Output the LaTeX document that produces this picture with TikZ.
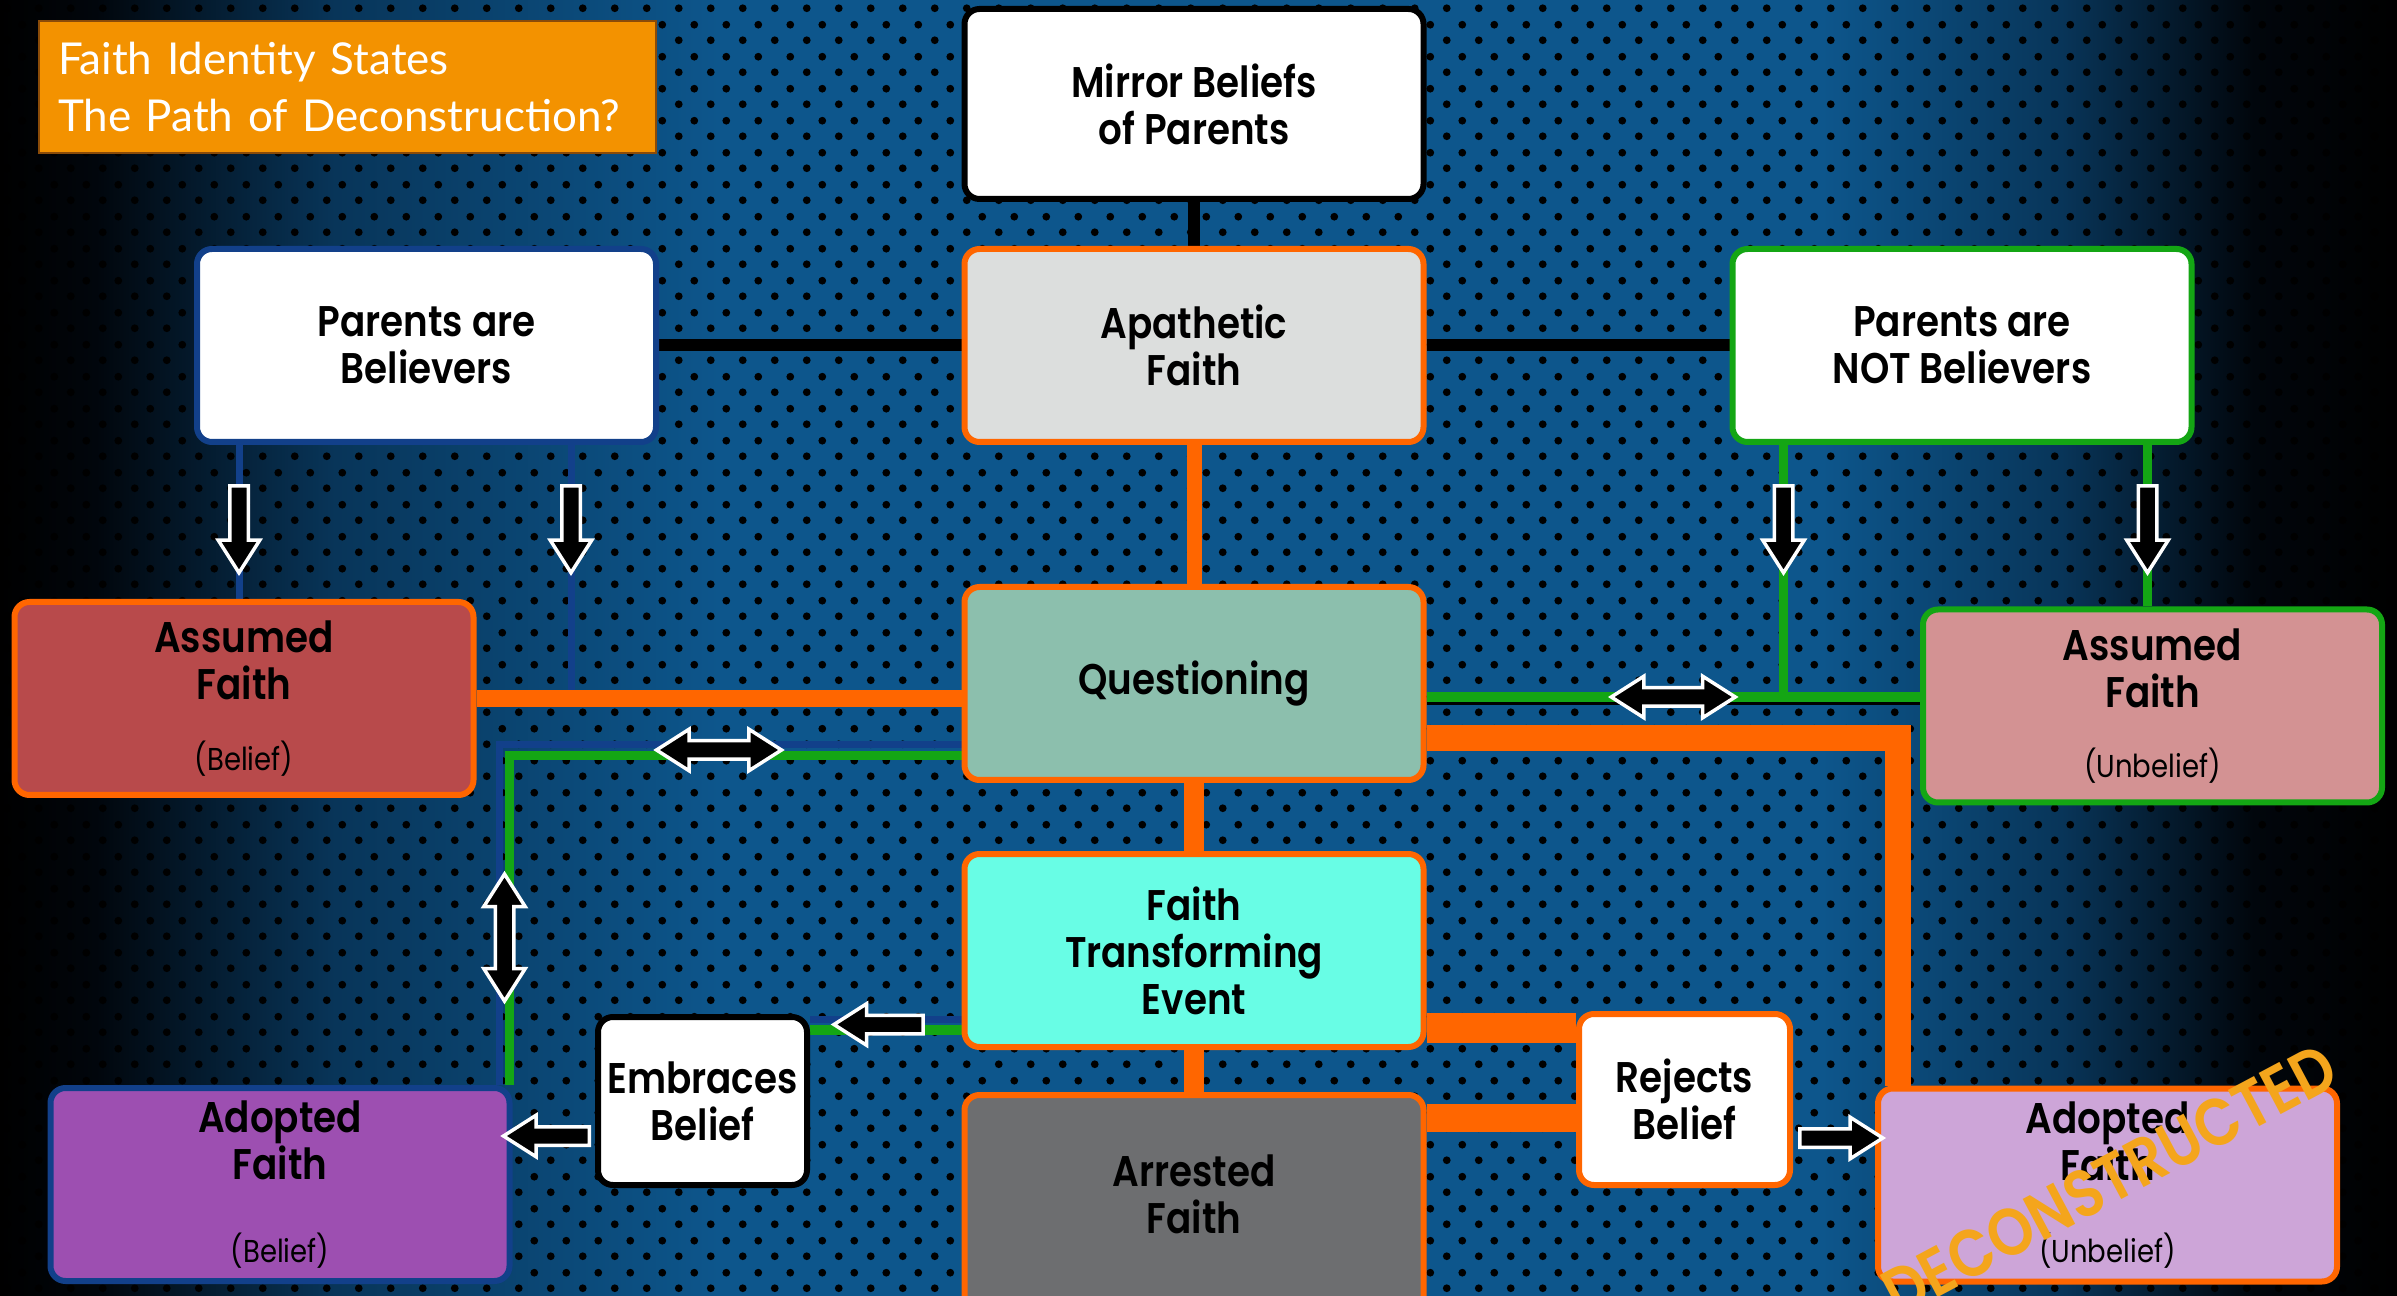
\documentclass[tikz,border=0pt]{standalone}
\usepackage{fontspec}
\setmainfont{Lato}
\newfontfamily\gothic{Poppins}[FakeStretch=0.87, BoldFont={Poppins SemiBold}]
\usetikzlibrary{calc,shapes.arrows,patterns.meta}
\newcommand*{\subtxt}{\mdseries\fontsize{9}{10}\selectfont}
\definecolor{corg}{HTML}{FF6600}
\definecolor{cnavy}{HTML}{12408A}
\definecolor{cgrn}{HTML}{14A614}
\definecolor{capa}{HTML}{DCDEDD}
\definecolor{cque}{HTML}{8CBFAD}
\definecolor{cfte}{HTML}{68FDE5}
\definecolor{carr}{HTML}{6D6E70}
\definecolor{cabl}{HTML}{B84A4B}
\definecolor{caub}{HTML}{D39293}
\definecolor{cadb}{HTML}{9D4FB1}
\definecolor{cadu}{HTML}{CDA5D8}
\definecolor{cttl}{HTML}{F39200}
\definecolor{cttlb}{HTML}{8A4B08}
\definecolor{cstamp}{HTML}{F4A51C}
\definecolor{cpl0}{HTML}{01060C}
\definecolor{cpl1}{HTML}{083559}
\definecolor{cpl2}{HTML}{0D568C}
% tikz maps the path onto the middle half of the shading
\pgfdeclarehorizontalshading{plate}{100bp}{color(0bp)=(black); color(25bp)=(black); color(27bp)=(cpl0);
  color(32bp)=(cpl1); color(40bp)=(cpl2); color(63bp)=(cpl2); color(68bp)=(cpl1); color(72bp)=(cpl0);
  color(75bp)=(black); color(100bp)=(black)}
\tikzdeclarepattern{
  name=perfdots,
  type=uncolored,
  bounding box={(0mm,0mm) and (3.2mm,3.2mm)},
  tile size={(3.2mm,3.2mm)},
  code={
    \fill (0.8mm,0.8mm) circle (0.4mm);
    \fill (2.4mm,2.4mm) circle (0.4mm);
  }
}
\pgfdeclarelayer{back}
\pgfdeclarelayer{links}
\pgfsetlayers{back,links,main}
\tikzset{
  faithbox/.style={draw=corg, line width=0.6mm, rounded corners=1.5mm, minimum width=45.9mm, minimum height=19.3mm,
    inner sep=0pt, align=center, font=\gothic\bfseries\fontsize{12.2}{13.4}\selectfont},
  blackln/.style={draw=black, line width=1.2mm},
  orgln/.style={draw=corg, line width=#1},
  bluln/.style={draw=cnavy, line width=0.7mm},
  grnln/.style={draw=cgrn, line width=0.9mm},
  arrowhd/.style={fill=black, draw=white, line width=0.35mm, inner sep=0.75mm},
  onearrow/.style={arrowhd, single arrow, single arrow head extend=1.15mm, single arrow tip angle=65,
    single arrow head indent=0mm, minimum height=#1},
  twoarrow/.style={arrowhd, double arrow, double arrow head extend=1.15mm, double arrow tip angle=65,
    double arrow head indent=0mm, minimum height=#1}
}

\begin{document}
\begin{tikzpicture}[x=0.1mm, y=-0.1mm]
    \useasboundingbox (0,0) rectangle (2397,1296);
    \clip (0,0) rectangle (2397,1296);
    \begin{pgfonlayer}{back}
        \shade[shading=plate] (0,0) rectangle (2397,1296);
        \fill[pattern=perfdots, pattern color=black] (0,0) rectangle (2397,1296);
    \end{pgfonlayer}

    \node[draw=cttlb, line width=0.25mm, fill=cttl, text=white, minimum width=61.7mm, minimum height=13.2mm,
        text width=57.9mm, align=left, inner sep=0pt, font=\fontsize{12.5}{16.4}\selectfont]
        (ttl) at (347.5,87) {Faith Identity States\\The Path of Deconstruction?};

    \node[faithbox, draw=black, fill=white, minimum height=19mm] (mir) at (1194,104) {Mirror Beliefs\\of Parents};
    \node[faithbox, fill=capa] (apa) at (1194,345.5) {Apathetic\\Faith};
    \node[faithbox, draw=cnavy, fill=white] (pb) at (426.5,345.5) {Parents are\\Believers};
    \node[faithbox, draw=cgrn, fill=white] (pnb) at (1962,345.5) {Parents are\\NOT Believers};
    \node[faithbox, fill=cabl] (ab) at (244,698.5) {Assumed\\Faith\\[2.3mm]{\subtxt (Belief)}};
    \node[faithbox, fill=cque] (q) at (1194,683.5) {Questioning};
    \node[faithbox, draw=cgrn, fill=caub] (aub) at (2152.5,706) {Assumed\\Faith\\[2.3mm]{\subtxt (Unbelief)}};
    \node[faithbox, fill=cfte] (fte) at (1194,950.5) {Faith\\Transforming\\Event};
    \node[faithbox, fill=carr, minimum height=24mm, text depth=4.2mm] (arr) at (1194,1215) {Arrested\\Faith};
    \node[faithbox, draw=black, fill=white, minimum width=20.9mm, minimum height=16.8mm] (emb) at (702.5,1101) {Embraces\\Belief};
    \node[faithbox, fill=white, minimum width=21.1mm, minimum height=17.1mm] (rej) at (1684.5,1099.5) {Rejects\\Belief};
    \node[faithbox, draw=cnavy, fill=cadb] (adb) at (280,1184.5) {Adopted\\Faith\\[3.5mm]{\subtxt (Belief)}};
    \node[faithbox, fill=cadu] (adu) at (2107.5,1185) {Adopted\\Faith\\[3.5mm]{\subtxt (Unbelief)}};

    % points where the lines leave the boxes
    \coordinate (pbl) at ($(ab.north |- pb.south)+(-5,0)$);
    \coordinate (pbr) at ($(pb.south east)+(-88,0)$);
    \coordinate (pnbl) at ($(pnb.south west)+(54,0)$);
    \coordinate (aubt) at ($(aub.north |- pnb.south)+(-5,0)$);
    \coordinate (gq) at ($(aub.west)+(0,-9)$);
    \coordinate (gqb) at ($(aub.west)+(0,-2)$);
    \coordinate (bq) at ($(q.south west)+(0,-38.5)$);
    \coordinate (gq2) at ($(q.south west)+(0,-27.5)$);
    \coordinate (bgl) at ($(q.south west)+(0,-33)$);
    \coordinate (bgv) at ($(adb.north east)+(-8,0)$);
    \coordinate (fb) at ($(fte.south west)+(0,-31)$);
    \coordinate (fg) at ($(fte.south west)+(0,-20)$);
    \coordinate (fm) at ($(fte.south west)+(0,-25.5)$);
    \coordinate (fr) at ($(fte.south east)+(0,-22)$);
    \coordinate (ar) at ($(arr.north east)+(0,26)$);
    \coordinate (qo) at ($(q.south east)+(0,-45)$);
    \coordinate (ea) at ($(emb.south west)+(0,-52)$);
    \coordinate (ra) at ($(rej.south east)+(0,-50)$);

    \begin{pgfonlayer}{links}
        \draw[blackln] (mir) -- (apa);
        \draw[blackln] (pb) -- (apa) -- (pnb);
        \draw[orgln=1.5mm] (apa) -- (q);
        \draw[orgln=2mm] (q) -- (fte) -- (arr);
        \draw[bluln] (pbl) -- (pbl |- ab.north);
        \draw[bluln] (pbr) -- (pbr |- ab.east);
        \draw[orgln=1.7mm] (ab.east) -- (ab.east -| q.west);
        \draw[bluln] (bq) -| ($(adb.north east)+(-13,0)$);
        \draw[grnln] (gq2) -| ($(adb.north east)+(-3,0)$);
        \draw[grnln] (aubt) -- (aubt |- aub.north);
        \draw[black, line width=0.3mm] (gqb) -- (gqb -| q.east);
        \draw[grnln, line width=1mm] (gq) -- (gq -| q.east);
        \draw[grnln] (pnbl) -- (pnbl |- gq);
        \draw[orgln=2.6mm] (qo) -| ($(adu.north west)+(23,0)$);
        \draw[bluln] (fb) -- (fb -| emb.east);
        \draw[grnln, line width=1mm] (fg) -- (fg -| emb.east);
        \draw[orgln=3mm] (fr) -- (fr -| rej.west);
        \draw[orgln=2.8mm] (ar) -- (ar -| rej.west);
    \end{pgfonlayer}

    \node[onearrow=8.7mm, shape border rotate=270] (dn1) at ($(pbl)!0.5!(pbl |- ab.north)$) {};
    \node[onearrow=8.7mm, shape border rotate=270] (dn2) at ($(pbr)!0.5!(pbr |- ab.north)$) {};
    \node[onearrow=8.7mm, shape border rotate=270] (dn3) at ($(pnbl)!0.5!(pnbl |- ab.north)$) {};
    \node[onearrow=8.7mm, shape border rotate=270] (dn4) at ($(aubt)!0.5!(aubt |- ab.north)$) {};
    \node[twoarrow=12.5mm] (lr1) at ($(bgl -| ab.east)!0.5!(bgl)$) {};
    \node[twoarrow=12.7mm, shape border rotate=90] (ud1) at ($(bgv |- bgl)!0.56!(bgv)$) {};
    \node[twoarrow=12.4mm] (lr2) at ($(gq -| q.east)!0.5!(gq)$) {};
    \node[onearrow=8.9mm, shape border rotate=180] (lt1) at ($(fm -| emb.east)!0.5!(fm)$) {};
    \node[onearrow=8.6mm, shape border rotate=180] (lt2) at ($(ea -| adb.east)!0.5!(ea)$) {};
    \node[onearrow=8.3mm] (rt1) at ($(ra)!0.5!(ra -| adu.west)$) {};

    \node[rotate=28, text=cstamp, inner sep=0pt, font=\gothic\bfseries\fontsize{19}{19}\selectfont] (stamp) at (2109,1180) {DECONSTRUCTED};
\end{tikzpicture}
\end{document}
